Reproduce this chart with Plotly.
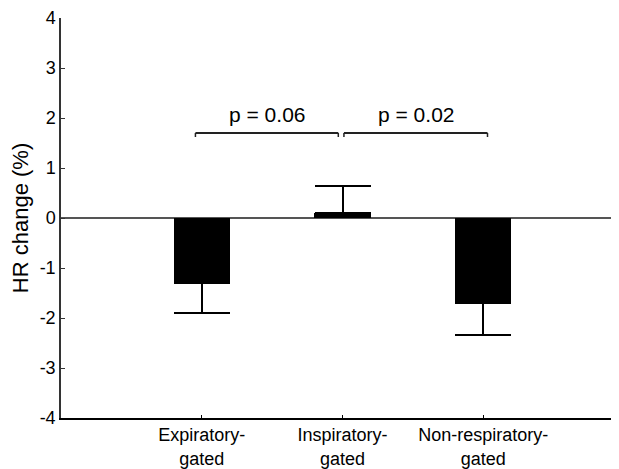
import plotly.graph_objects as go

categories = ["Expiratory-<br>gated", "Inspiratory-<br>gated", "Non-respiratory-<br>gated"]
means = [-1.30, 0.10, -1.70]
errors = [0.60, 0.54, 0.64]
y_ticks = [-4, -3, -2, -1, 0, 1, 2, 3, 4]
y_tick_labels = ["-4", "-3", "-2", "-1", "0", "1", "2", "3", "4"]
comparisons = [(0, 1, "p = 0.06"), (1, 2, "p = 0.02")]
bracket_y = 1.70

FONT = "Liberation Sans, Arial, sans-serif"

xs = list(range(len(categories)))
err_plus = [e if m >= 0 else 0 for m, e in zip(means, errors)]
err_minus = [e if m < 0 else 0 for m, e in zip(means, errors)]

fig = go.Figure()
fig.add_trace(go.Bar(
    x=xs, y=means, width=0.4,
    marker=dict(color="black", line=dict(color="black", width=0)),
    error_y=dict(type="data", symmetric=False, array=err_plus, arrayminus=err_minus,
                 color="black", thickness=2, width=28),
    showlegend=False,
))

# significance brackets
for a, b, label in comparisons:
    x0 = a - 0.045 if a == 0 else a + 0.01
    x1 = b - 0.03 if a == 0 else b + 0.03
    fig.add_shape(type="line", xref="x", yref="y", x0=x0, x1=x1, y0=bracket_y, y1=bracket_y,
                  line=dict(color="#222", width=2))
    for xx in (x0, x1):
        fig.add_shape(type="line", xref="x", yref="y", x0=xx, x1=xx, y0=bracket_y, y1=bracket_y - 0.08,
                      line=dict(color="#222", width=1.5))
    fig.add_annotation(x=(x0 + x1) / 2, y=bracket_y, yshift=19, text=label, showarrow=False,
                       font=dict(size=21, color="black", family=FONT))

# page body has an 8px default margin, so the figure is sized to fit the window
fig.update_layout(
    width=611, height=461,
    margin=dict(l=53, r=2, t=10, b=51),
    paper_bgcolor="white", plot_bgcolor="white",
    font=dict(family=FONT, color="black", size=18),
    bargap=0,
)
fig.update_xaxes(
    range=[-1.0, 2.95], tickmode="array", tickvals=xs, ticktext=categories,
    showline=True, linecolor="black", linewidth=1.5, ticks="inside", ticklen=3,
    tickcolor="black", showgrid=False, zeroline=False, tickfont=dict(size=18),
    automargin=False,
)
fig.update_yaxes(
    range=[-4, 4], tickmode="array", tickvals=y_ticks, ticktext=y_tick_labels,
    showline=True, linecolor="#333", linewidth=1.5, ticks="inside", ticklen=4,
    tickcolor="#333", showgrid=False, zeroline=True, zerolinecolor="#555", zerolinewidth=1.5,
    title=dict(text="HR change (%)", font=dict(size=22), standoff=8), tickfont=dict(size=18),
    automargin=False,
)

fig.write_html("out.html")
